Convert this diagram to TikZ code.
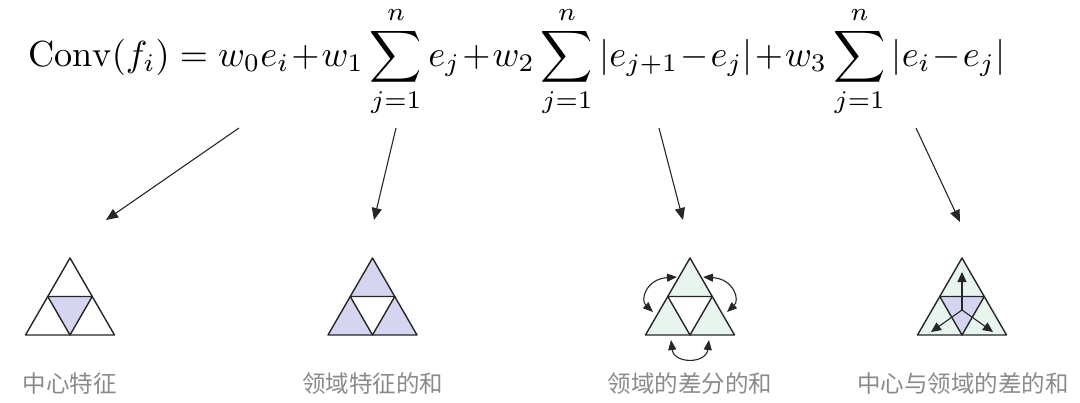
\documentclass[tikz,border=0pt]{standalone}
\usepackage{graphicx}
\usepackage{fontspec}
\newfontfamily\cjk{Noto Sans CJK SC}
\usetikzlibrary{arrows.meta}
\definecolor{lav}{HTML}{D5D5F2}
\definecolor{mint}{HTML}{E8F5EE}
\definecolor{lbl}{HTML}{8A8A8A}
\tikzset{
  tri/.style={draw=black!85, line width=1.4pt, line join=round},
  ptr/.style={-{Triangle[length=12pt,width=10pt]}, line width=1.1pt, black!85},
  dptr/.style={{Triangle[length=10pt,width=8pt]}-{Triangle[length=10pt,width=8pt]}, line width=1.1pt, black!85},
  rptr/.style={-{Triangle[length=10pt,width=9pt]}, line width=1.1pt, black!85},
  lab/.style={font=\cjk\fontsize{23.5}{26}\selectfont, text=lbl, inner sep=0pt},
}
% triangle: #1 apex x, #2 outer fill, #3 center fill
\newcommand{\mytri}[3]{%
  \coordinate (A) at (#1,258);
  \coordinate (L) at (#1-44.5,335);
  \coordinate (R) at (#1+44.5,335);
  \coordinate (ML) at (#1-22.25,296.5);
  \coordinate (MR) at (#1+22.25,296.5);
  \coordinate (MB) at (#1,335);
  \fill[#2] (A)--(ML)--(MR)--cycle;
  \fill[#2] (ML)--(L)--(MB)--cycle;
  \fill[#2] (MR)--(MB)--(R)--cycle;
  \fill[#3] (ML)--(MR)--(MB)--cycle;
  \draw[tri] (A)--(L)--(R)--cycle;
  \draw[tri] (ML)--(MR)--(MB)--cycle;
}
\begin{document}
\begin{tikzpicture}[x=1pt,y=-1pt]
\useasboundingbox (0,0) rectangle (1080,402);
% formula
\node[anchor=base west, inner sep=0pt] (eq) at (28,66) {\resizebox{977pt}{!}{\medmuskip=1mu
$\displaystyle \mathrm{Conv}(f_i) = w_0 e_i + w_1 \sum_{j=1}^{n} e_j + w_2 \sum_{j=1}^{n} |e_{j+1} - e_j| + w_3 \sum_{j=1}^{n} |e_i - e_j|$}};
% triangles
\mytri{70}{white}{lav}
\mytri{372.5}{lav}{white}
\mytri{690}{mint}{white}
\mytri{962}{mint}{lav}
% curved arrows on triangle 3
\coordinate (c3a) at (677,277);
\coordinate (c3b) at (653,312);
\coordinate (c3c) at (703,277);
\coordinate (c3d) at (727,312);
\coordinate (c3e) at (671,340);
\coordinate (c3f) at (709,340);
\draw[dptr] (c3a) .. controls (646,279) and (640,300) .. (c3b);
\draw[dptr] (c3c) .. controls (734,279) and (740,300) .. (c3d);
\draw[dptr] (c3e) .. controls (674,364) and (706,364) .. (c3f);
% radial arrows on triangle 4
\coordinate (c4) at (962,310);
\coordinate (c4u) at (962,272);
\coordinate (c4l) at (931,332);
\coordinate (c4r) at (993,332);
\draw[rptr] (c4) -- (c4u);
\draw[rptr] (c4) -- (c4l);
\draw[rptr] (c4) -- (c4r);
% pointers
\coordinate (s1) at (239,128); \coordinate (e1) at (106,220);
\coordinate (s2) at (396,128); \coordinate (e2) at (374,220);
\coordinate (s3) at (659,128); \coordinate (e3) at (683,220);
\coordinate (s4) at (916,128); \coordinate (e4) at (960,222);
\draw[ptr] (s1) -- (e1);
\draw[ptr] (s2) -- (e2);
\draw[ptr] (s3) -- (e3);
\draw[ptr] (s4) -- (e4);
% labels
\node[lab] (l1) at (70,384) {中心特征};
\node[lab] (l2) at (372.5,384) {领域特征的和};
\node[lab] (l3) at (690,384) {领域的差分的和};
\node[lab] (l4) at (963,384) {中心与领域的差的和};
\end{tikzpicture}
\end{document}
